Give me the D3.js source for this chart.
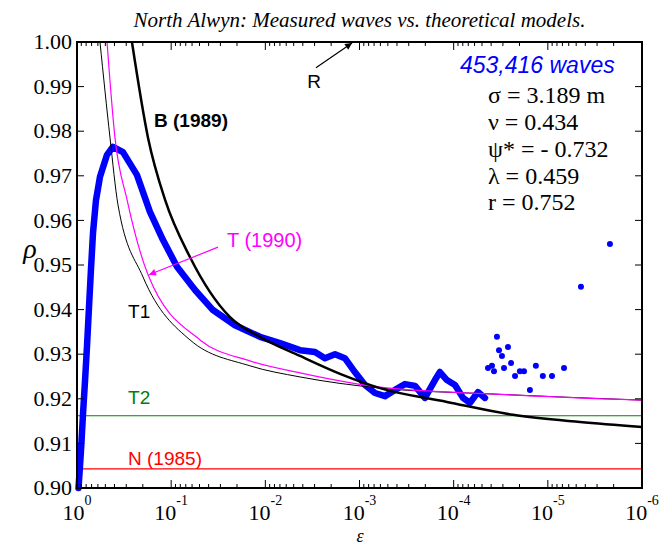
<!DOCTYPE html>
<html>
<head>
<meta charset="utf-8">
<script src="https://cdn.jsdelivr.net/npm/d3@7"></script>
<style>
  body { margin: 0; background: #fff; }
  svg { display: block; }
</style>
</head>
<body>
<div id="chart"></div>
<script>
// Measured wave ratio vs exceedance probability, with theoretical curves.

// measured (thick blue line)
var measX = [0.964, 0.929, 0.896, 0.864, 0.822, 0.783, 0.746, 0.710, 0.676, 0.629, 0.570, 0.480, 0.415,
    0.325, 0.231, 0.168, 0.122, 0.0867, 0.0558, 0.0360, 0.0210, 0.0114, 0.00699, 0.00428, 0.00297,
    0.00233, 0.00182, 0.00143, 0.00112, 8.74e-4, 6.85e-4, 5.36e-4, 4.20e-4, 3.29e-4, 2.57e-4, 2.02e-4,
    1.58e-4, 1.40e-4, 1.18e-4, 9.68e-5, 7.96e-5, 6.71e-5, 5.52e-5, 4.65e-5];
var measY = [0.9000, 0.9050, 0.9103, 0.9165, 0.9240, 0.9318, 0.9405, 0.9492, 0.9572, 0.9645, 0.9698, 0.9747, 0.9765,
    0.9753, 0.9702, 0.9619, 0.9556, 0.9496, 0.9444, 0.9399, 0.9365, 0.9339, 0.9325, 0.9309, 0.9305,
    0.9291, 0.9300, 0.9291, 0.9260, 0.9231, 0.9213, 0.9206, 0.9220, 0.9233, 0.9229, 0.9202,
    0.9242, 0.9260, 0.9242, 0.9231, 0.9202, 0.9191, 0.9215, 0.9202];

// measured tail (sparse dots)
var dotX = [4.32e-5, 3.92e-5, 3.73e-5, 3.47e-5, 3.30e-5, 3.07e-5, 2.92e-5, 2.65e-5, 2.46e-5, 2.23e-5,
    1.98e-5, 1.79e-5, 1.55e-5, 1.34e-5, 1.13e-5, 9.03e-6, 6.73e-6, 4.45e-6, 2.19e-6];
var dotY = [0.9269, 0.9274, 0.9262, 0.9339, 0.9309, 0.9296, 0.9269, 0.9316, 0.9280, 0.9251,
    0.9262, 0.9262, 0.9220, 0.9274, 0.9251, 0.9251, 0.9269, 0.9451, 0.9547];

// theoretical curves
var bX = [0.261, 0.176, 0.116, 0.0632, 0.0237, 0.0114, 0.00428, 0.00161, 6.06e-4, 1.18e-4, 2.34e-5, 4.56e-6, 1e-6];
var bY = [1.000, 0.9785, 0.9646, 0.9518, 0.9383, 0.9339, 0.9296, 0.9256, 0.9224, 0.9193, 0.9164, 0.9148, 0.9137];

var tX = [0.480, 0.395, 0.294, 0.176, 0.0494, 0.0146, 0.00428, 6.06e-4, 4.11e-5, 1e-6];
var tY = [1.000, 0.9785, 0.9646, 0.9478, 0.9332, 0.9285, 0.9258, 0.9226, 0.9211, 0.9197];

var t1X = [0.570, 0.446, 0.367, 0.199, 0.0631, 0.0146, 0.00428, 6.06e-4, 4.11e-5, 1e-6];
var t1Y = [1.000, 0.9785, 0.9635, 0.9473, 0.9332, 0.9274, 0.9249, 0.9224, 0.9211, 0.9197];

var t2Level = 0.9162;
var nLevel = 0.9043;

var yTicks = [0.90, 0.91, 0.92, 0.93, 0.94, 0.95, 0.96, 0.97, 0.98, 0.99, 1.00];
var xDecades = [0, -1, -2, -3, -4, -5, -6];

var titleText = 'North Alwyn: Measured waves vs. theoretical models.';
var statLines = ['\u03c3 = 3.189 m', '\u03bd = 0.434', '\u03c8* = - 0.732', '\u03bb = 0.459', 'r = 0.752'];

var W = 659, H = 547;
var serif = '"Liberation Serif", "Times New Roman", serif';
var sans = '"Liberation Sans", Arial, sans-serif';

var svg = d3.select('#chart').append('svg')
    .attr('width', W).attr('height', H);

var x = d3.scaleLog().domain([1, 1e-6]).range([77, 642]);
var y = d3.scaleLinear().domain([0.90, 1.00]).range([488, 42]);

function zip(xs, ys) { return xs.map(function (v, i) { return [v, ys[i]]; }); }

var smooth = d3.line()
    .x(function (d) { return x(d[0]); })
    .y(function (d) { return y(d[1]); })
    .curve(d3.curveMonotoneX);
var rough = d3.line()
    .x(function (d) { return x(d[0]); })
    .y(function (d) { return y(d[1]); });

// arrow marker
var defs = svg.append('defs');
['black', '#ff00ff'].forEach(function (c, i) {
    defs.append('marker')
        .attr('id', 'arr' + i)
        .attr('viewBox', '0 0 10 10')
        .attr('refX', 10).attr('refY', 5)
        .attr('markerWidth', 10).attr('markerHeight', 7)
        .attr('markerUnits', 'userSpaceOnUse')
        .attr('orient', 'auto')
        .append('path').attr('d', 'M0,0 L10,5 L0,10 Z').attr('fill', c);
});

// horizontal reference levels
svg.append('line')
    .attr('x1', x(1)).attr('x2', x(1e-6))
    .attr('y1', y(t2Level)).attr('y2', y(t2Level))
    .attr('stroke', '#008000').attr('stroke-width', 1.2);
svg.append('line')
    .attr('x1', x(1)).attr('x2', x(1e-6))
    .attr('y1', y(nLevel)).attr('y2', y(nLevel))
    .attr('stroke', '#ff0000').attr('stroke-width', 1.2);

// measured line + dots
svg.append('path')
    .attr('d', rough(zip(measX, measY)))
    .attr('fill', 'none').attr('stroke', '#0000ff')
    .attr('stroke-width', 6.5).attr('stroke-linejoin', 'round').attr('stroke-linecap', 'round');
svg.selectAll('circle.dot')
    .data(zip(dotX, dotY))
    .join('circle')
    .attr('class', 'dot')
    .attr('cx', function (d) { return x(d[0]); })
    .attr('cy', function (d) { return y(d[1]); })
    .attr('r', 3)
    .attr('fill', '#0000ff');

// theoretical curves
svg.append('path').attr('d', smooth(zip(t1X, t1Y)))
    .attr('fill', 'none').attr('stroke', '#000').attr('stroke-width', 1);
svg.append('path').attr('d', smooth(zip(tX, tY)))
    .attr('fill', 'none').attr('stroke', '#ff00ff').attr('stroke-width', 1.2);
svg.append('path').attr('d', smooth(zip(bX, bY)))
    .attr('fill', 'none').attr('stroke', '#000').attr('stroke-width', 2.5);

// frame
svg.append('rect')
    .attr('x', x(1)).attr('y', y(1))
    .attr('width', x(1e-6) - x(1)).attr('height', y(0.9) - y(1))
    .attr('fill', 'none').attr('stroke', '#000').attr('stroke-width', 2);

// x ticks (inward, bottom and top)
var xAll = x.ticks();
var isMajor = function (v) { return Math.abs(Math.log10(v) - Math.round(Math.log10(v))) < 1e-6; };
[[y(0.9), -1], [y(1), 1]].forEach(function (s) {
    svg.append('g').selectAll('line')
        .data(xAll)
        .join('line')
        .attr('x1', function (d) { return x(d); }).attr('x2', function (d) { return x(d); })
        .attr('y1', s[0])
        .attr('y2', function (d) { return s[0] + s[1] * (isMajor(d) ? 8 : 4); })
        .attr('stroke', '#000').attr('stroke-width', 1);
});

// y ticks (inward, left and right)
[[x(1), 1], [x(1e-6), -1]].forEach(function (s) {
    svg.append('g').selectAll('line')
        .data(yTicks)
        .join('line')
        .attr('x1', s[0]).attr('x2', s[0] + s[1] * 7)
        .attr('y1', function (d) { return y(d); }).attr('y2', function (d) { return y(d); })
        .attr('stroke', '#000').attr('stroke-width', 1);
});

// y tick labels
svg.append('g').selectAll('text')
    .data(yTicks)
    .join('text')
    .attr('x', x(1) - 5)
    .attr('y', function (d) { return y(d); })
    .attr('dy', '0.33em')
    .attr('text-anchor', 'end')
    .attr('font-family', serif).attr('font-size', 22)
    .text(function (d) { return d3.format('.2f')(d); });

// x tick labels 10^n
var xl = svg.append('g').selectAll('text')
    .data(xDecades)
    .join('text')
    .attr('x', function (d) { return x(Math.pow(10, d)); })
    .attr('y', 520)
    .attr('text-anchor', 'middle')
    .attr('font-family', serif).attr('font-size', 22);
xl.append('tspan').text('10');
xl.append('tspan').attr('dy', -15).attr('font-size', 14).text(function (d) { return String(d); });

// axis titles
svg.append('text')
    .attr('x', 30).attr('y', 258)
    .attr('text-anchor', 'middle')
    .attr('font-family', serif).attr('font-style', 'italic').attr('font-size', 28)
    .text('\u03c1');
svg.append('text')
    .attr('x', 360).attr('y', 542)
    .attr('text-anchor', 'middle')
    .attr('font-family', serif).attr('font-style', 'italic').attr('font-size', 18)
    .text('\u03b5');

// title
svg.append('text')
    .attr('x', (x(1) + x(1e-6)) / 2).attr('y', 27)
    .attr('text-anchor', 'middle')
    .attr('font-family', serif).attr('font-style', 'italic').attr('font-size', 21)
    .text(titleText);

// curve labels
function label(px, py, txt, color, opts) {
    var t = svg.append('text')
        .attr('x', x(px)).attr('y', y(py))
        .attr('font-family', opts.font || sans)
        .attr('font-size', opts.size || 19)
        .attr('fill', color)
        .text(txt);
    if (opts.weight) t.attr('font-weight', opts.weight);
    if (opts.style) t.attr('font-style', opts.style);
    if (opts.anchor) t.attr('text-anchor', opts.anchor);
    return t;
}
label(0.152, 0.9809, 'B (1989)', '#000', { weight: 'bold', size: 19 });
label(0.0255, 0.9540, 'T (1990)', '#ff00ff', { size: 20 });
label(0.287, 0.9381, 'T1', '#000', { size: 19 });
label(0.287, 0.9188, 'T2', '#008000', { size: 19 });
label(0.287, 0.9052, 'N (1985)', '#ff0000', { size: 19 });
label(0.00304, 0.9897, 'R', '#000', { size: 19, anchor: 'middle' });

// arrows
svg.append('line')
    .attr('x1', x(2.90e-3)).attr('y1', y(0.9942))
    .attr('x2', x(1.20e-3)).attr('y2', y(0.9998))
    .attr('stroke', '#000').attr('stroke-width', 1.2)
    .attr('marker-end', 'url(#arr0)');
svg.append('line')
    .attr('x1', x(0.0318)).attr('y1', y(0.9540))
    .attr('x2', x(0.172)).attr('y2', y(0.9478))
    .attr('stroke', '#ff00ff').attr('stroke-width', 1.2)
    .attr('marker-end', 'url(#arr1)');

// stats block
label(8.57e-5, 0.9930, '453,416 waves', '#0000ff', { style: 'italic', size: 23 });
var statY = [0.98632, 0.98027, 0.97422, 0.96816, 0.96233];
statLines.forEach(function (s, i) {
    label(4.32e-5, statY[i], s, '#000', { font: serif, size: 24 });
});
</script>
</body>
</html>
